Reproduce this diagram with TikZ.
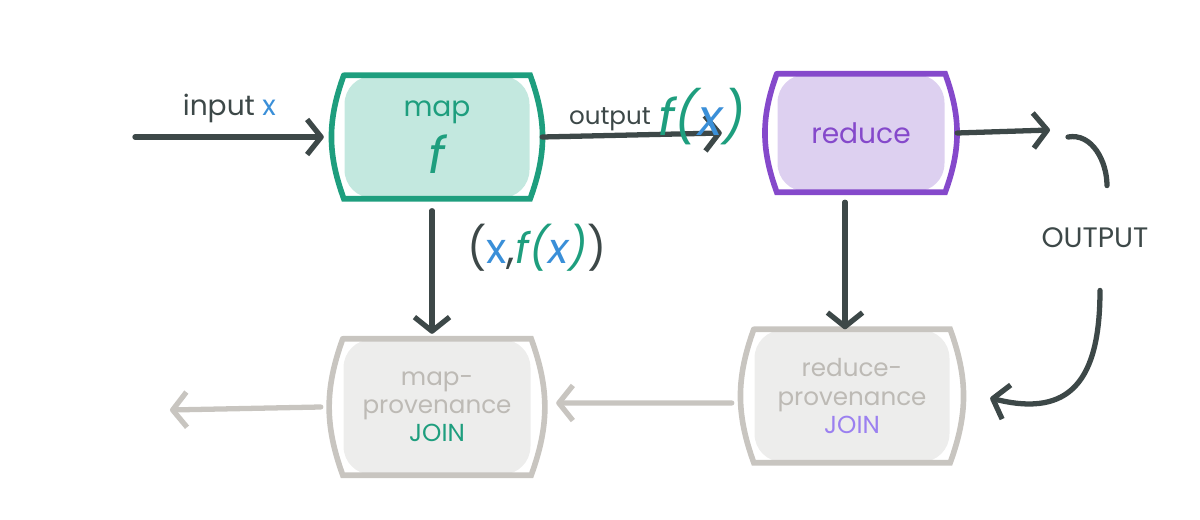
\documentclass[tikz,border=0pt]{standalone}
\usepackage{fontspec}
\setmainfont{Poppins}
\usetikzlibrary{arrows.meta,positioning}
\definecolor{ink}{HTML}{3D4848}
\definecolor{mapc}{HTML}{1E9E7E}
\definecolor{mapfill}{HTML}{C3E8DF}
\definecolor{redc}{HTML}{8549CB}
\definecolor{redfill}{HTML}{DDD0F0}
\definecolor{provc}{HTML}{C8C5C0}
\definecolor{provfill}{HTML}{EDEDEC}
\definecolor{provtext}{HTML}{BDBAB5}
\definecolor{xblue}{HTML}{3A8FD8}
\definecolor{joinpur}{HTML}{9B80F0}

\begin{document}
\begin{tikzpicture}[font=\footnotesize,
 box/.style={rounded corners=8pt,inner sep=2pt,align=center,minimum width=1.85cm,minimum height=1.22cm},
 prov/.style={box,fill=provfill,text=provtext,font=\scriptsize},
 arr/.style={draw=ink,line width=1.5pt,line cap=round,-{Straight Barb[length=4pt,width=10pt,line join=round]}},
 garr/.style={arr,draw=provc}]
\useasboundingbox (0,0) rectangle (12,5.19);
% the two operators
\node[box,fill=mapfill,text=mapc](map) at (4.37,3.82){map\\[2pt]{\Large\itshape f}};
\node[box,fill=redfill,text=redc,minimum width=1.67cm,minimum height=1.17cm](red) at (8.61,3.86){reduce};
% provenance joins
\node[prov,minimum width=1.87cm,minimum height=1.35cm](mprov) at (4.37,1.12){map-\\provenance\\\textcolor{mapc}{JOIN}};
\node[prov,minimum width=1.95cm,minimum height=1.32cm](rprov) at (8.52,1.23){reduce-\\provenance\\\textcolor{joinpur}{JOIN}};
\foreach \n/\c in {map/mapc,red/redc,mprov/provc,rprov/provc}
  \draw[\c,line width=1.6pt,line cap=round] (\n.north west)--(\n.north east) to[bend left=20] (\n.south east)--(\n.south west) to[bend left=20] (\n.north west);
% flow
\coordinate (in) at (1.35,3.82);
\coordinate (rtip) at (10.5,3.89);
\coordinate (hook) at (10.68,3.82);
\coordinate (out) at (1.70,1.09);
\draw[arr] (in) -- ([xshift=-0.2cm]map.west) node[midway,above=0pt,text=ink]{input \textcolor{xblue}{x}};
\draw[arr] ([xshift=0.12cm]map.east) -- ([xshift=-0.55cm]red.west) node[pos=0.64,above=-7pt,text=ink]{\raisebox{3pt}{\scriptsize output} \textcolor{mapc}{\Large\itshape f(\textcolor{xblue}{x})}};
\draw[arr] ([xshift=-0.05cm,yshift=-0.12cm]map.south) -- ([xshift=-0.05cm,yshift=0.05cm]mprov.north) node[pos=0.3,right=6pt,text=ink]{\large(\textcolor{xblue}{x},\textcolor{mapc}{\itshape f(\textcolor{xblue}{x})})};
\draw[arr] ([xshift=-0.16cm,yshift=-0.1cm]red.south) -- ([xshift=-0.07cm]rprov.north);
\draw[garr] ([xshift=-0.22cm,yshift=-0.07cm]rprov.west) -- ([xshift=0.25cm,yshift=0.04cm]mprov.east);
\draw[garr] ([xshift=-0.22cm]mprov.west) -- (out);
\draw[arr] ([xshift=0.12cm]red.east) -- (rtip);
\node[text=ink](outlbl) at (10.95,2.81){OUTPUT};
\draw[ink,line width=1.5pt,line cap=round] (hook) to[out=10,in=90] ([xshift=0.12cm,yshift=0.3cm]outlbl.north);
\draw[arr] ([xshift=0.05cm,yshift=-0.3cm]outlbl.south) .. controls +(0,-0.9) and +(0.8,-0.2) .. ([xshift=0.4cm,yshift=-0.02cm]rprov.east);
\end{tikzpicture}
\end{document}
